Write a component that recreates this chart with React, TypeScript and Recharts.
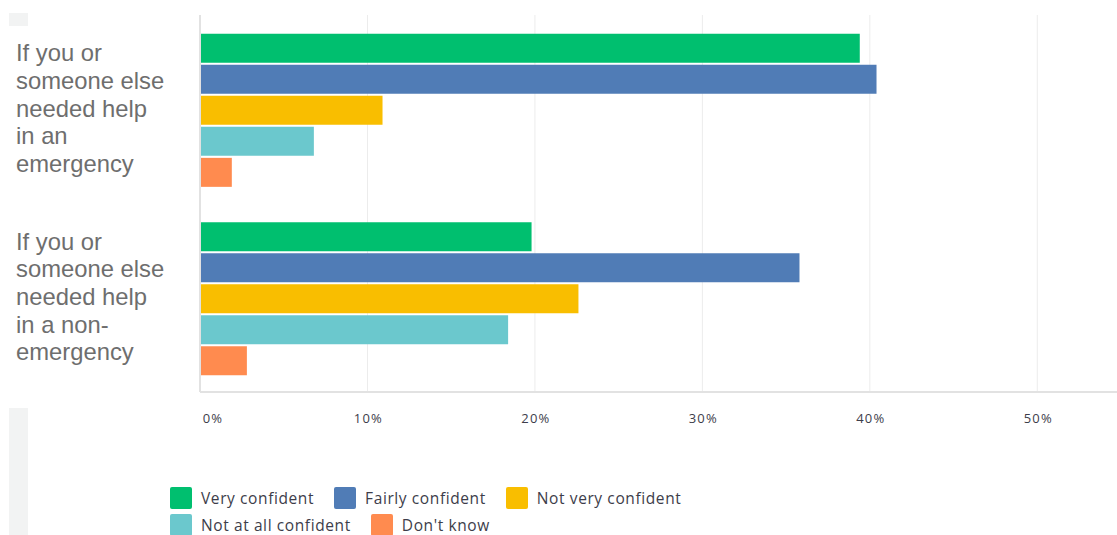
import { BarChart, Bar, XAxis, YAxis, CartesianGrid } from 'recharts'

const categories = [
  ['If you or', 'someone else', 'needed help', 'in an', 'emergency'],
  ['If you or', 'someone else', 'needed help', 'in a non-', 'emergency'],
]
const seriesNames = ['Very confident', 'Fairly confident', 'Not very confident', 'Not at all confident', "Don't know"]
const seriesKeys = ['very', 'fairly', 'notVery', 'notAtAll', 'dontKnow']
const COLORS = ['#00BF6F', '#507CB6', '#F9BE00', '#6BC8CD', '#FF8B4F']
const veryConfident = [39.4, 19.8]
const fairlyConfident = [40.4, 35.8]
const notVeryConfident = [10.9, 22.6]
const notAtAllConfident = [6.8, 18.4]
const dontKnow = [1.9, 2.8]
const xTicks = [0, 10, 20, 30, 40, 50]

const data = categories.map((lines, i) => ({
  name: lines.join(' '),
  very: veryConfident[i],
  fairly: fairlyConfident[i],
  notVery: notVeryConfident[i],
  notAtAll: notAtAllConfident[i],
  dontKnow: dontKnow[i],
}))

function CategoryTick({ y, index }: any) {
  const lines = categories[index] || []
  const step = 27.7
  const start = y - 1 - ((lines.length - 1) * step) / 2
  return (
    <text x={16} y={start} fill="#6e6e6e" fontSize={23.8} fontFamily="'Liberation Sans', Arial, sans-serif" textAnchor="start">
      {lines.map((l, i) => (
        <tspan key={i} x={16} y={start + i * step} dy="0.35em">{l}</tspan>
      ))}
    </text>
  )
}

function PercentTick({ x, y, payload }: any) {
  return (
    <text x={x + (payload.value === 0 ? 13 : 1)} y={y} fill="#3d3d4a" fontSize={13} letterSpacing={1.2} fontFamily="'Open Sans', sans-serif" textAnchor="middle" dy="0.35em">
      {payload.value}%
    </text>
  )
}

export default function App() {
  return (
    <div style={{ position: 'absolute', left: 0, top: 0, width: 1117, height: 535, background: '#fff', overflow: 'hidden', fontFamily: "'Open Sans', sans-serif" }}>
      {/* left grey strips */}
      <div style={{ position: 'absolute', left: 9, top: 13, width: 19, height: 13, background: '#f2f3f3' }} />
      <div style={{ position: 'absolute', left: 9, top: 408, width: 19, height: 127, background: '#f2f3f3' }} />

      <BarChart
        width={1121}
        height={535}
        data={data}
        layout="vertical"
        margin={{ top: 15, right: 0, left: 0, bottom: 103 }}
        barGap={2}
        barCategoryGap="10%"
      >
        <CartesianGrid horizontal={false} stroke="#ececec" />
        <XAxis
          type="number"
          domain={[0, 55]}
          ticks={xTicks}
          tickLine={false}
          axisLine={{ stroke: '#e2e2e2', strokeWidth: 2 }}
          height={40}
          tick={<PercentTick />}
          tickMargin={20}
          interval={0}
        />
        <YAxis
          type="category"
          dataKey="name"
          width={200}
          tickLine={false}
          axisLine={{ stroke: '#e2e2e2', strokeWidth: 2 }}
          tick={<CategoryTick />}
        />
        {seriesKeys.map((k, i) => (
          <Bar key={k} dataKey={k} name={seriesNames[i]} fill={COLORS[i]} isAnimationActive={false} />
        ))}
      </BarChart>

      {/* legend */}
      <div style={{ position: 'absolute', left: 170, top: 487, width: 560, display: 'flex', flexWrap: 'wrap', columnGap: 20, rowGap: 5 }}>
        {seriesNames.map((n, i) => (
          <div key={n} style={{ display: 'flex', alignItems: 'center', height: 22 }}>
            <div style={{ width: 22, height: 22, borderRadius: 2, background: COLORS[i], marginRight: 9 }} />
            <span style={{ fontSize: 15.5, letterSpacing: 0.6, color: '#3d3d4a', whiteSpace: 'nowrap' }}>{n}</span>
          </div>
        ))}
      </div>
    </div>
  )
}
